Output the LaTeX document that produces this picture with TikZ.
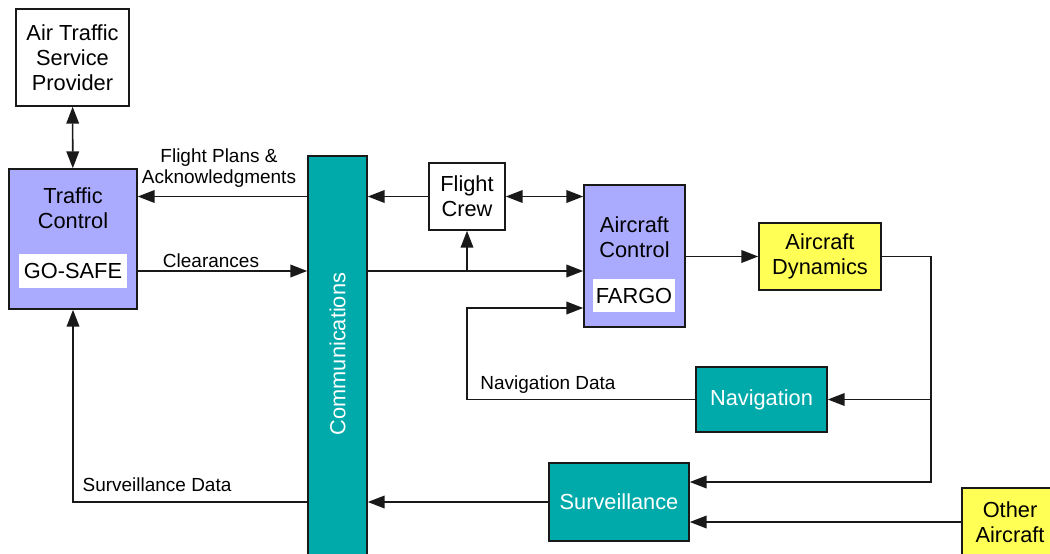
\documentclass[tikz,border=0pt]{standalone}
\usepackage{fontspec}
\setmainfont{Liberation Sans}
\usepackage{xcolor}
\usetikzlibrary{arrows.meta, positioning}
\definecolor{ctlblue}{HTML}{AAAAFF}
\definecolor{systeal}{HTML}{00AAAA}
\definecolor{dynyellow}{HTML}{FFFF55}
\def\bigf{\fontsize{15.5}{17.8}\selectfont}
\def\smallf{\fontsize{13.5}{15.5}\selectfont}

\begin{document}
\begin{tikzpicture}[x=0.025cm, y=-0.025cm,
  blk/.style={draw=black!90, line width=1.1pt, align=center, font=\bigf, inner sep=0pt},
  ctl/.style={blk, fill=ctlblue},
  sys/.style={blk, fill=systeal, text=white},
  dyn/.style={blk, fill=dynyellow},
  tag/.style={fill=white, font=\bigf, inner sep=0pt},
  lbl/.style={font=\smallf, align=center, inner sep=0pt},
  arr/.style={line width=1.1pt, draw=black!90, -{Triangle[length=12pt, width=9pt]}},
  dbl/.style={line width=1.1pt, draw=black!90, {Triangle[length=12pt, width=9pt]}-{Triangle[length=12pt, width=9pt]}}]
\useasboundingbox (0,0) rectangle (1050,553);

% boxes
\node[blk, minimum width=2.825cm, minimum height=2.425cm] (atsp) at (72.5,57.5) {Air Traffic\\Service\\Provider};
\node[ctl, minimum width=3.2cm, minimum height=3.5cm] (tc) at (73,239) {};
\node[blk, draw=none] (tctext) at (73,208) {Traffic\\Control};
\node[tag, minimum width=2.7cm, minimum height=0.85cm] (gosafe) at (73,271) {GO-SAFE};
\node[sys, minimum width=1.475cm, minimum height=10cm] (comm) at (337.5,356) {};
\node[rotate=90, text=white, font=\bigf] (commtext) at (337.5,354) {Communications};
\node[blk, minimum width=1.9cm, minimum height=1.675cm] (fc) at (467,196.5) {Flight\\Crew};
\node[ctl, minimum width=2.525cm, minimum height=3.55cm] (ac) at (634.5,256) {};
\node[blk, draw=none] (actext) at (634.5,237) {Aircraft\\Control};
\node[tag, minimum width=2.05cm, minimum height=0.825cm] (fargo) at (634,295.5) {FARGO};
\node[dyn, minimum width=3.05cm, minimum height=1.675cm] (ad) at (820,256.5) {Aircraft\\Dynamics};
\node[sys, minimum width=3.275cm, minimum height=1.625cm] (nav) at (761.5,399.5) {Navigation};
\node[sys, minimum width=3.5cm, minimum height=1.95cm] (surv) at (619,502) {Surveillance};
\node[dyn, minimum width=2.4cm, minimum height=1.7cm] (oth) at (1010,522) {Other\\Aircraft};

% connectors
\draw[dbl] (atsp) -- (tc);
\draw[arr] (comm.west |- fc.west) -- (tc.east |- fc.west);
\node[lbl] (fplbl) at (219,168) {Flight Plans \&\\Acknowledgments};
\draw[arr] (tc.east |- gosafe) -- (comm.west |- gosafe);
\node[lbl] (cllbl) at (211,261) {Clearances};
\draw[arr] (fc.west) -- (fc.west -| comm.east);
\draw[dbl] (fc.east) -- (fc.east -| ac.west);
\draw[arr] (comm.east |- gosafe) -- (ac.west |- gosafe);
\draw[arr] (fc.south |- gosafe) -- (fc.south);
\coordinate (navup) at (467,308);
\draw[arr] (nav.west) -| (navup) -- (navup -| ac.west);
\node[lbl] (navlbl) at (548,385) {Navigation Data};
\draw[arr] (ad.west -| ac.east) -- (ad.west);
\coordinate (bus) at (931,482);
\draw[arr] (ad.east) -| (bus) -- (bus -| surv.east);
\draw[arr] (bus |- nav.east) -- (nav.east);
\draw[arr] (oth.west) -- (oth.west -| surv.east);
\draw[arr] (surv.west) -- (surv.west -| comm.east);
\draw[arr] (comm.west |- surv.west) -| (tc.south);
\node[lbl] (svlbl) at (157,485) {Surveillance Data};
\end{tikzpicture}
\end{document}
